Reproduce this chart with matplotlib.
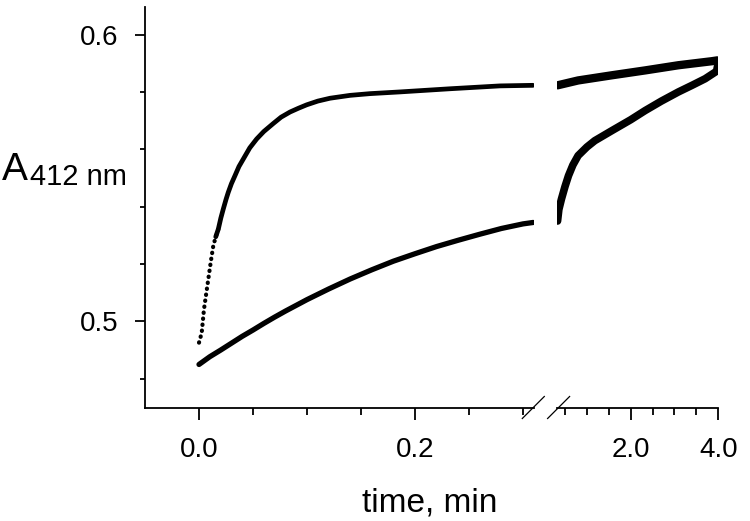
import matplotlib
matplotlib.use("Agg")
import matplotlib.pyplot as plt
from matplotlib.lines import Line2D

plt.rcParams["font.family"] = ["Liberation Sans", "DejaVu Sans"]

# fast trace, before the axis break (time in min, A412)
fast_t = [0.000, 0.0025, 0.0046, 0.0068, 0.0086, 0.0110, 0.0132, 0.0155, 0.0179,
          0.0202, 0.0225, 0.0250, 0.0271, 0.0300, 0.0333, 0.0370, 0.0410, 0.0470,
          0.0534, 0.0600, 0.0688, 0.0760, 0.0843, 0.0920, 0.0997, 0.1100, 0.1213,
          0.1398, 0.1583, 0.1861, 0.2324, 0.2787, 0.3093]
fast_a = [0.4926, 0.4960, 0.5042, 0.5100, 0.5147, 0.5210, 0.5263, 0.5295, 0.5322,
          0.5360, 0.5392, 0.5425, 0.5450, 0.5480, 0.5508, 0.5540, 0.5566, 0.5605,
          0.5636, 0.5662, 0.5690, 0.5712, 0.5730, 0.5743, 0.5755, 0.5768, 0.5778,
          0.5788, 0.5794, 0.5800, 0.5811, 0.5821, 0.5823]

# slow trace, before the axis break
slow_t = [0.000, 0.010, 0.020, 0.030, 0.040, 0.050, 0.060, 0.070, 0.080, 0.090,
          0.100, 0.120, 0.140, 0.160, 0.180, 0.200, 0.220, 0.240, 0.260, 0.280,
          0.300, 0.3095]
slow_a = [0.4850, 0.4877, 0.4900, 0.4924, 0.4948, 0.4970, 0.4993, 0.5015, 0.5036,
          0.5056, 0.5076, 0.5113, 0.5148, 0.5180, 0.5210, 0.5236, 0.5261, 0.5283,
          0.5304, 0.5324, 0.5340, 0.5345]

# both traces after the axis break
fast_late_t = [0.33, 0.80, 1.57, 2.33, 3.09, 3.85, 3.98]
fast_late_a = [0.5823, 0.5840, 0.5858, 0.5875, 0.5893, 0.5907, 0.5910]
slow_late_t = [0.33, 0.36, 0.42, 0.50, 0.58, 0.68, 0.80, 1.00, 1.18, 1.57, 2.00,
               2.33, 2.70, 3.09, 3.40, 3.70, 3.96, 3.99]
slow_late_a = [0.5350, 0.5390, 0.5427, 0.5470, 0.5508, 0.5545, 0.5578, 0.5608,
               0.5630, 0.5665, 0.5703, 0.5735, 0.5768, 0.5800, 0.5823, 0.5846,
               0.5872, 0.5895]

W, H = 750, 521
fig = plt.figure(figsize=(W / 100, H / 100), dpi=100)

bottom = (H - 407.5) / H
height = (407.5 - 7) / H
ax1 = fig.add_axes([145 / W, bottom, 388.8 / W, height])
ax2 = fig.add_axes([557.1 / W, bottom, 161.2 / W, height])

line_kw = dict(color="black", solid_capstyle="round", solid_joinstyle="round")

# steep start of the fast trace shows up as separate dots
ax1.plot(fast_t[:9], fast_a[:9], color="black", lw=3.0,
         linestyle=(0, (0.1, 1.35)), dash_capstyle="round")
ax1.plot(fast_t[7:], fast_a[7:], lw=3.4, **line_kw)
ax1.plot(slow_t, slow_a, lw=3.8, **line_kw)

ax2.plot(fast_late_t, fast_late_a, lw=6.0, **line_kw)
ax2.plot(slow_late_t, slow_late_a, lw=5.5, **line_kw)

for ax in (ax1, ax2):
    ax.set_ylim(0.47, 0.6096)
    ax.spines["top"].set_visible(False)
    ax.spines["right"].set_visible(False)
    for s in ("left", "bottom"):
        ax.spines[s].set_linewidth(1.3)
    ax.tick_params(axis="x", which="major", length=8.5, width=1.3, pad=13, labelsize=20)
    ax.tick_params(axis="x", which="minor", length=4.8, width=1.3)
    ax.patch.set_alpha(0)

ax1.set_xlim(-0.05, 0.31)
ax1.set_xticks([0.0, 0.2])
ax1.set_xticklabels(["0.0", "0.2"])
ax1.set_xticks([0.05, 0.1, 0.15, 0.25, 0.3], minor=True)
ax1.set_yticks([0.5, 0.6])
ax1.set_yticklabels(["0.5", "0.6"])
ax1.set_yticks([0.48, 0.52, 0.54, 0.56, 0.58], minor=True)
ax1.tick_params(axis="y", which="major", length=7, width=1.3, pad=12, labelsize=20)
ax1.tick_params(axis="y", which="minor", length=3.6, width=1.3)

ax2.set_xlim(0.32, 4.0)
ax2.set_xticks([2.0, 4.0])
ax2.set_xticklabels(["2.0", "4.0"])
ax2.set_xticks([0.5, 1.0, 1.5, 2.5, 3.0, 3.5], minor=True)
ax2.spines["left"].set_visible(False)
ax2.set_yticks([])

# break marks on the time axis
for ax, xa, dx in ((ax1, 1.0, -0.5), (ax2, 0.0, 1.5)):
    x0, y0 = ax.transAxes.transform((xa, 0))
    fig.add_artist(Line2D([x0 + dx - 11, x0 + dx + 11], [y0 - 11, y0 + 11],
                          transform=None, color="black", lw=0.9))

fig.text(430 / W, (H - 512) / H, "time, min", fontsize=24, ha="center", va="baseline")
fig.text(2 / W, (H - 180) / H, "A", fontsize=28, ha="left", va="baseline")
fig.text(30 / W, (H - 185) / H, "412 nm", fontsize=21, ha="left", va="baseline")

fig.savefig("out.png", dpi=100)
